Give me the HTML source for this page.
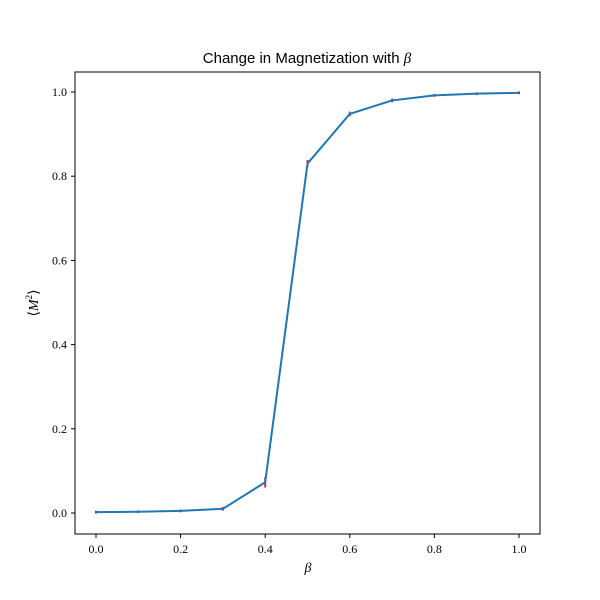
<!DOCTYPE html>
<html><head><meta charset="utf-8"><style>
body{margin:0;background:#fff;}
svg{display:block;font-family:"Liberation Serif",serif;}
</style></head><body>
<svg id="chart" width="600" height="600">
<rect x="0" y="0" width="600" height="600" fill="#fff"/>
<text x="307" y="63" text-anchor="middle" font-family="Liberation Sans, sans-serif" font-size="15">Change in Magnetization with <tspan font-style="italic" font-family="Liberation Serif, serif">β</tspan></text>
<g id="xticks"></g><g id="yticks"></g>
<g id="errs"></g>
<polyline id="line" fill="none" stroke="#1f77b4" stroke-width="2"/>
<rect x="75" y="72" width="465" height="462" fill="none" stroke="#000" stroke-width="1"/>
<text x="308" y="572" text-anchor="middle" font-style="italic" font-size="14">β</text>
<text transform="translate(38,303) rotate(-90)" text-anchor="middle" font-size="14">⟨<tspan font-style="italic">M</tspan><tspan font-size="9" dy="-6">2</tspan><tspan dy="6">⟩</tspan></text>
</svg>
<script>
const betas=[0,0.1,0.2,0.3,0.4,0.5,0.6,0.7,0.8,0.9,1.0];
const m2=[0.002,0.003,0.005,0.01,0.073,0.83,0.948,0.98,0.992,0.996,0.998];
const errs=[0.001,0.001,0.001,0.002,0.01,0.006,0.003,0.002,0.001,0.001,0.001];
const xTicks=[0,0.2,0.4,0.6,0.8,1.0];
const yTicks=[0,0.2,0.4,0.6,0.8,1.0];
const NS="http://www.w3.org/2000/svg";
const X=v=>96+v*423, Y=v=>513-v*421;
const xt=document.getElementById('xticks'), yt=document.getElementById('yticks');
xTicks.forEach(t=>{
 const l=document.createElementNS(NS,'line');
 l.setAttribute('x1',X(t));l.setAttribute('x2',X(t));l.setAttribute('y1',534);l.setAttribute('y2',538);l.setAttribute('stroke','#000');
 
 
 xt.appendChild(l);
 const s=document.createElementNS(NS,'text');
 s.setAttribute('x',X(t));s.setAttribute('y',553);s.setAttribute('text-anchor','middle');s.setAttribute('font-size','12');
 s.textContent=t.toFixed(1);
 
 
 xt.appendChild(s);
});
yTicks.forEach(t=>{
 const l=document.createElementNS(NS,'line');
 l.setAttribute('x1',71);l.setAttribute('x2',75);l.setAttribute('y1',Y(t));l.setAttribute('y2',Y(t));l.setAttribute('stroke','#000');
 
 
 yt.appendChild(l);
 const s=document.createElementNS(NS,'text');
 s.setAttribute('x',67);s.setAttribute('y',Y(t)+4);s.setAttribute('text-anchor','end');s.setAttribute('font-size','12');
 s.textContent=t.toFixed(1);
 
 
 yt.appendChild(s);
});
const eg=document.getElementById('errs');
betas.forEach((b,i)=>{
 const l=document.createElementNS(NS,'line');
 l.setAttribute('x1',X(b));l.setAttribute('x2',X(b));
 l.setAttribute('y1',Y(m2[i]-errs[i])+1);l.setAttribute('y2',Y(m2[i]+errs[i])-1);
 l.setAttribute('stroke','#d62728');l.setAttribute('stroke-width','2');
 
 
 eg.appendChild(l);
});
document.getElementById('line').setAttribute('points',betas.map((b,i)=>X(b)+','+Y(m2[i])).join(' '));
</script>
</body></html>
